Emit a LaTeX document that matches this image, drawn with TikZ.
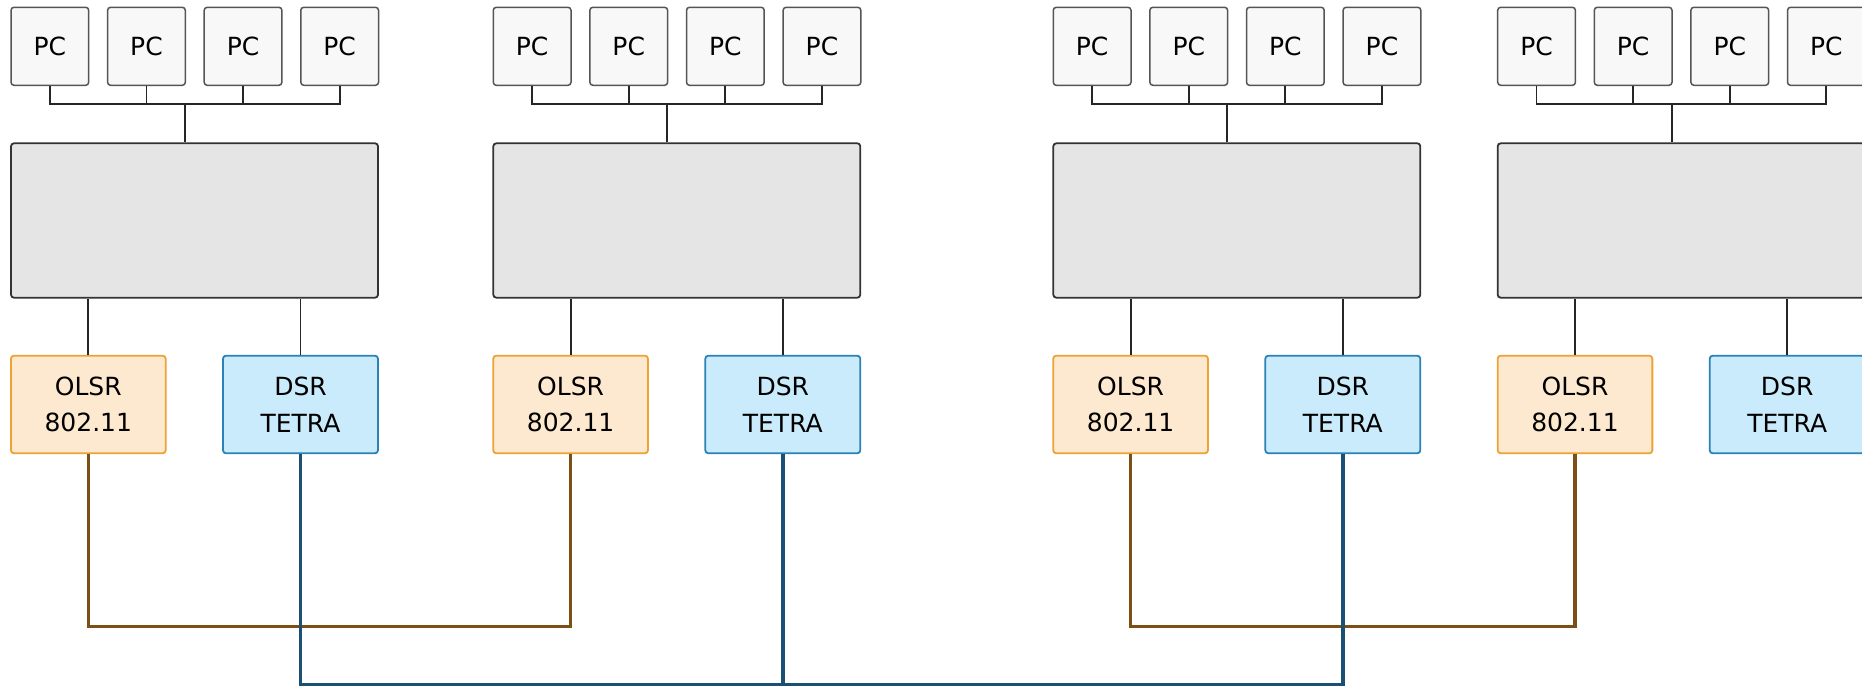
\documentclass[tikz,border=0pt]{standalone}
\usepackage{fontspec}
\setmainfont{DejaVu Sans}
\definecolor{pcfill}{HTML}{F8F8F8}
\definecolor{pcdraw}{HTML}{555555}
\definecolor{bigfill}{HTML}{E5E5E5}
\definecolor{bigdraw}{HTML}{333333}
\definecolor{olsrfill}{HTML}{FDE9CF}
\definecolor{olsrdraw}{HTML}{EDA236}
\definecolor{dsrfill}{HTML}{C9EBFC}
\definecolor{dsrdraw}{HTML}{2B82B5}
\definecolor{brownline}{HTML}{7B4F16}
\definecolor{blueline}{HTML}{1B4F74}
\tikzset{
  pcbox/.style={draw=pcdraw, fill=pcfill, line width=1.5pt, rounded corners=3pt,
    minimum width=77.7pt, minimum height=78pt, inner sep=0pt,
    font=\fontsize{25}{30}\selectfont},
  bigbox/.style={draw=bigdraw, fill=bigfill, line width=1.8pt, rounded corners=3pt,
    minimum width=367pt, minimum height=154.4pt, inner sep=0pt},
  olsrbox/.style={draw=olsrdraw, fill=olsrfill, line width=1.8pt, rounded corners=3pt,
    minimum width=154.7pt, minimum height=97.6pt, inner sep=0pt, align=center,
    font=\fontsize{25}{36.6}\selectfont},
  dsrbox/.style={draw=dsrdraw, fill=dsrfill, line width=1.8pt, rounded corners=3pt,
    minimum width=155pt, minimum height=97.6pt, inner sep=0pt, align=center,
    font=\fontsize{25}{36.6}\selectfont},
  wire/.style={draw=black!85, line width=1.8pt},
  brownwire/.style={draw=brownline, line width=3.2pt},
  bluewire/.style={draw=blueline, line width=3.5pt}
}
\begin{document}
\begin{tikzpicture}[x=1pt,y=-1pt]
\clip (0,0) rectangle (1862,687);
\fill[white] (0,0) rectangle (1862,687);
\foreach \g/\xo in {1/11,2/493.3,3/1053.3,4/1497.7}{
  \foreach \i in {1,2,3,4}{
    \node[pcbox] (g\g p\i) at ({\xo+38.85+96.6*(\i-1)},46.3) {PC};
  }
  \node[bigbox] (g\g big) at (\xo+183.5,220.5) {};
  \node[olsrbox] (g\g olsr) at (\xo+77.3,404.5) {OLSR\\802.11};
  \node[dsrbox] (g\g dsr) at (\xo+289.5,404.5) {DSR\\TETRA};
  \coordinate (g\g trunk) at (\xo+174,104.3);
  \draw[wire] (g\g p1.south) |- (g\g trunk) -| (g\g p4.south);
  \draw[wire] (g\g p2.south) -- (g\g p2.south |- g\g trunk);
  \draw[wire] (g\g p3.south) -- (g\g p3.south |- g\g trunk);
  \draw[wire] (g\g trunk) -- (g\g trunk |- g\g big.north);
  \draw[wire] (g\g olsr.north) -- (g\g olsr.north |- g\g big.south);
  \draw[wire] (g\g dsr.north) -- (g\g dsr.north |- g\g big.south);
}
\coordinate (brownA) at (0,626.7);
\coordinate (blueA) at (0,684.3);
\draw[brownwire] (g1olsr.south) |- (brownA -| g2olsr.south) -- (g2olsr.south);
\draw[brownwire] (g3olsr.south) |- (brownA -| g4olsr.south) -- (g4olsr.south);
\draw[bluewire] (g1dsr.south) |- (blueA -| g3dsr.south) -- (g3dsr.south);
\draw[bluewire] (g2dsr.south) -- (g2dsr.south |- blueA);
\end{tikzpicture}
\end{document}
